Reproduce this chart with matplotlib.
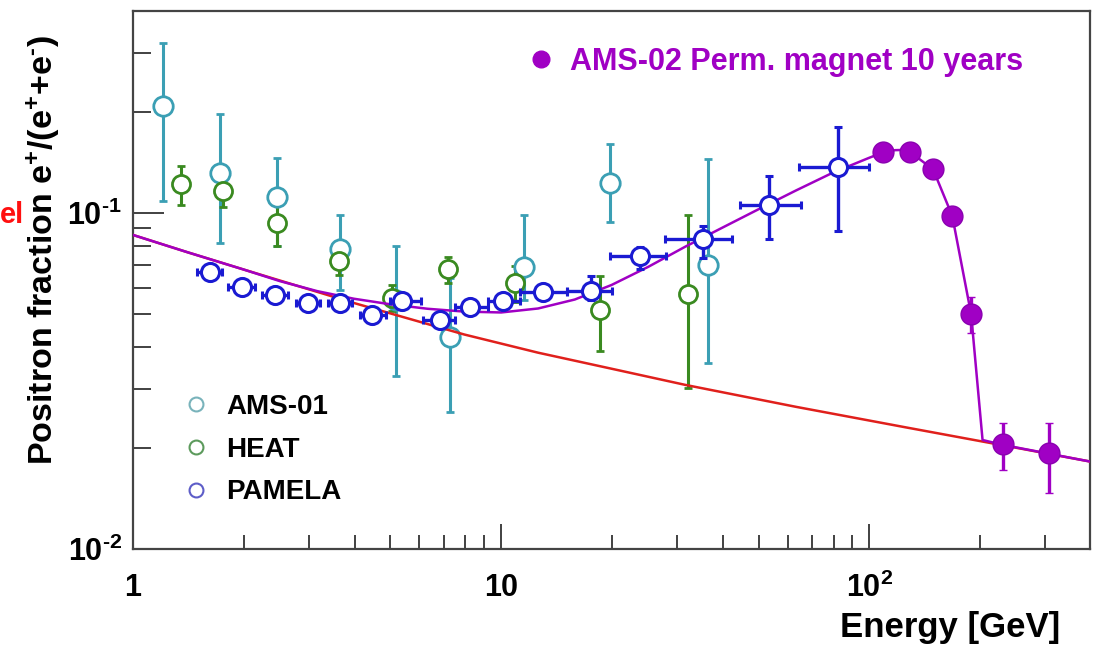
import matplotlib
matplotlib.use('Agg')
import matplotlib.pyplot as plt
from matplotlib.lines import Line2D
from matplotlib.ticker import FixedLocator, LogLocator, NullFormatter
import numpy as np

plt.rcParams['font.family'] = ['Liberation Sans', 'DejaVu Sans']
plt.rcParams['font.weight'] = 'bold'
plt.rcParams['mathtext.fontset'] = 'custom'
plt.rcParams['mathtext.rm'] = 'Liberation Sans:bold'
plt.rcParams['mathtext.it'] = 'Liberation Sans:bold'
plt.rcParams['mathtext.bf'] = 'Liberation Sans:bold'

# AMS-01 (energy GeV, fraction, lower / upper error bound)
ams01_E = [1.21, 1.72, 2.46, 3.65, 5.18, 7.27, 11.5, 19.8, 36.5]
ams01_y = [0.208, 0.1315, 0.1116, 0.0781, 0.055, 0.0428, 0.069, 0.1227, 0.070]
ams01_lo = [0.109, 0.0814, 0.080, 0.059, 0.0327, 0.0256, 0.055, 0.094, 0.0358]
ams01_hi = [0.321, 0.197, 0.146, 0.0986, 0.0797, 0.064, 0.0986, 0.161, 0.145]

# HEAT
heat_E = [1.35, 1.76, 2.46, 3.62, 5.06, 7.18, 10.9, 18.5, 32.2]
heat_y = [0.122, 0.116, 0.0934, 0.072, 0.056, 0.068, 0.0619, 0.0514, 0.0574]
heat_lo = [0.1056, 0.104, 0.080, 0.0654, 0.051, 0.062, 0.0544, 0.0388, 0.0301]
heat_hi = [0.138, 0.130, 0.1056, 0.0787, 0.061, 0.074, 0.0695, 0.065, 0.0986]

# PAMELA (with energy bin edges)
pam_E = [1.62, 1.98, 2.43, 2.99, 3.65, 4.46, 5.38, 6.83, 8.24, 10.1, 13.0, 17.5, 23.9, 35.4, 53.5, 82.4]
pam_y = [0.0667, 0.0602, 0.057, 0.054, 0.054, 0.0497, 0.0547, 0.048, 0.0525, 0.0547, 0.0582, 0.0586,
         0.0744, 0.0837, 0.1056, 0.137]
pam_Elo = [1.49, 1.81, 2.24, 2.77, 3.39, 4.14, 4.99, 6.14, 7.50, 9.22, 11.26, 15.1, 19.8, 27.9, 44.5, 64.5]
pam_Ehi = [1.745, 2.145, 2.64, 3.22, 3.94, 4.87, 6.06, 7.50, 9.22, 11.26, 15.1, 20.0, 28.0, 42.4, 65.2, 100]
pam_lo = [0.0647, 0.0583, 0.0552, 0.0522, 0.0521, 0.0478, 0.0527, 0.0461, 0.0505, 0.0526, 0.0558, 0.0551,
          0.068, 0.0735, 0.0837, 0.0884]
pam_hi = [0.0687, 0.0621, 0.0588, 0.0558, 0.0559, 0.0516, 0.0567, 0.0499, 0.0545, 0.0568, 0.0606, 0.065,
          0.0792, 0.0915, 0.129, 0.180]

# AMS-02 projection
ams02_E = [109, 129, 149, 168, 189, 231, 308]
ams02_y = [0.152, 0.152, 0.135, 0.098, 0.050, 0.0205, 0.0193]
ams02_lo = [0.152, 0.152, 0.135, 0.098, 0.044, 0.0172, 0.0147]
ams02_hi = [0.152, 0.152, 0.135, 0.098, 0.0562, 0.0237, 0.0237]

# secondary production model (red) and fit with source term (magenta)
model_E = [1.0, 1.41, 2.0, 3.98, 7.94, 12.6, 19.95, 31.6, 63.1, 125.9, 251, 398]
model_y = [0.0861, 0.0764, 0.0679, 0.0540, 0.0435, 0.0384, 0.0344, 0.0308, 0.0265, 0.0230, 0.0200, 0.0182]
fit_E = [1.0, 1.41, 2.0, 2.51, 3.16, 3.98, 5.01, 6.31, 7.94, 10, 12.6, 15.85, 19.95, 25.1, 31.6, 39.8,
         50.1, 63.1, 79.4, 100, 109.6, 117.5, 123, 129, 149, 168, 189, 203, 231, 308, 398]
fit_y = [0.0861, 0.0764, 0.0679, 0.0627, 0.0586, 0.0556, 0.0535, 0.0519, 0.0509, 0.0506, 0.0520, 0.0553,
         0.0611, 0.0692, 0.0794, 0.0904, 0.1028, 0.1167, 0.1318, 0.1462, 0.152, 0.154, 0.1542, 0.152,
         0.135, 0.098, 0.050, 0.0211, 0.0204, 0.0192, 0.0182]

c_ams01 = '#3b9fb4'
c_heat = '#3a8a20'
c_pam = '#1a1ad2'
c_ams02 = '#a000c4'
c_red = '#e0201c'

fig = plt.figure(figsize=(10.99, 6.45), dpi=100)
ax = fig.add_axes([0.121, 0.149, 0.871, 0.834])
ax.set_xscale('log')
ax.set_yscale('log')
ax.set_xlim(1, 398)
ax.set_ylim(0.01, 0.4)

def yerr(y, lo, hi):
    y = np.array(y)
    return [y - np.array(lo), np.array(hi) - y]

ax.errorbar(ams01_E, ams01_y, yerr=yerr(ams01_y, ams01_lo, ams01_hi), fmt='o', ms=14,
            mfc='white', mec=c_ams01, mew=2.0, ecolor=c_ams01, elinewidth=2.2, capsize=3,
            capthick=2.2, zorder=2)
ax.errorbar(heat_E, heat_y, yerr=yerr(heat_y, heat_lo, heat_hi), fmt='o', ms=13,
            mfc='white', mec=c_heat, mew=2.0, ecolor=c_heat, elinewidth=2.2, capsize=3,
            capthick=2.2, zorder=2)

ax.plot(model_E, model_y, color=c_red, lw=1.8, zorder=3)
ax.plot(fit_E, fit_y, color=c_ams02, lw=1.8, zorder=4)

pE = np.array(pam_E)
ax.errorbar(pam_E, pam_y, yerr=yerr(pam_y, pam_lo, pam_hi),
            xerr=[pE - np.array(pam_Elo), np.array(pam_Ehi) - pE], fmt='o', ms=13,
            mfc='white', mec=c_pam, mew=2.2, ecolor=c_pam, elinewidth=2.4, capsize=3,
            capthick=2.4, zorder=5)

ax.errorbar(ams02_E, ams02_y, yerr=yerr(ams02_y, ams02_lo, ams02_hi), fmt='o', ms=15,
            mfc=c_ams02, mec='#8a00b0', mew=1.0, ecolor=c_ams02, elinewidth=2.4, capsize=3,
            capthick=2.4, zorder=6)

# axes styling
for s in ax.spines.values():
    s.set_color('#444444')
    s.set_linewidth(1.6)
ax.tick_params(which='both', direction='in', top=False, right=False, colors='#333333',
               width=1.3, labelsize=22, labelcolor='black')
ax.tick_params(axis='x', which='major', length=18, pad=17)
ax.tick_params(axis='x', which='minor', length=10)
ax.tick_params(axis='y', which='major', length=22, pad=8)
ax.tick_params(axis='y', which='minor', length=13)
ax.xaxis.set_major_locator(FixedLocator([1, 10, 100]))
ax.set_xticklabels(['1', '10', r'$10^{2}$'])
ax.xaxis.set_minor_locator(LogLocator(base=10, subs=np.arange(2, 10)))
ax.xaxis.set_minor_formatter(NullFormatter())
ax.yaxis.set_major_locator(FixedLocator([0.01, 0.1]))
ax.set_yticklabels([r'$10^{\text{-}2}$', r'$10^{\text{-}1}$'])
ax.yaxis.set_minor_locator(LogLocator(base=10, subs=np.arange(2, 10)))
ax.yaxis.set_minor_formatter(NullFormatter())

fig.text(43 / 1099, 1 - 250 / 645, r'Positron fraction e$^{+}$/(e$^{+}$+e$^{\text{-}}$)', rotation=90,
         ha='center', va='center', fontsize=24.5, fontweight='bold')
fig.text(1060 / 1099, 1 - 628 / 645, 'Energy [GeV]', ha='right', va='center', fontsize=25,
         fontweight='bold')
fig.text(24.5 / 1099, 1 - 215 / 645, 'el', ha='right', va='center', fontsize=21,
         fontweight='bold', color='#ff1010')

h1 = [Line2D([], [], ls='none', marker='o', ms=10, mfc='white', mec='#79b3bb', mew=1.5),
      Line2D([], [], ls='none', marker='o', ms=10, mfc='white', mec='#5c9a5c', mew=1.5),
      Line2D([], [], ls='none', marker='o', ms=10, mfc='white', mec='#5d5dc8', mew=1.5)]
leg1 = ax.legend(h1, ['AMS-01', 'HEAT', 'PAMELA'], loc='upper left',
                 bbox_to_anchor=(0.0512, 0.288), frameon=False, fontsize=20, handlelength=1.0,
                 handletextpad=0.58, labelspacing=0.6, borderpad=0, borderaxespad=0)
ax.add_artist(leg1)
h2 = [Line2D([], [], ls='none', marker='o', ms=12, mfc=c_ams02, mec=c_ams02)]
leg2 = ax.legend(h2, ['AMS-02 Perm. magnet 10 years'], loc='center left',
                 bbox_to_anchor=(0.410, 0.905), frameon=False, fontsize=22, handlelength=1.0,
                 handletextpad=0.45, borderpad=0, borderaxespad=0)
for t in leg2.get_texts():
    t.set_color(c_ams02)

fig.savefig('out.png', dpi=100)
